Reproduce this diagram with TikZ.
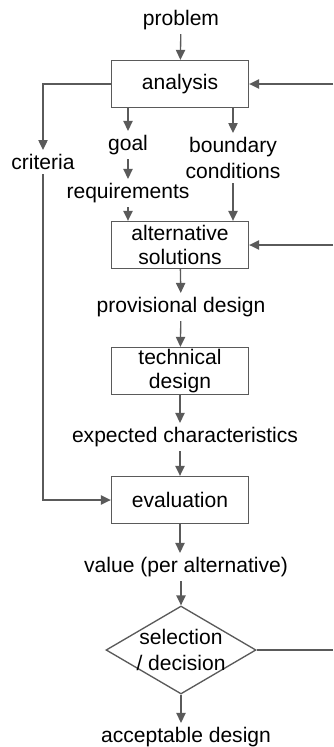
\documentclass[tikz,border=0pt]{standalone}
\usepackage{fontspec}
\setmainfont{Liberation Sans}
\usetikzlibrary{arrows.meta,shapes.geometric}
\definecolor{linegray}{RGB}{90,90,90}
\begin{document}
\begin{tikzpicture}[x=0.75pt,y=-0.75pt,
  box/.style={rectangle,draw=linegray,line width=1pt,minimum width=102.75pt,minimum height=35.25pt,align=center,inner sep=0pt,font=\fontsize{15.8}{18.5}\selectfont},
  lbl/.style={align=center,inner sep=3pt,font=\fontsize{15.8}{19.5}\selectfont},
  arr/.style={-{Triangle[width=7pt,length=7.5pt]},draw=linegray,line width=1pt}]
\useasboundingbox (0,0) rectangle (333,747);
\node (P) [lbl] at (181,20) {problem};
\node (AN) [box] at (180,84) {analysis};
\node (CR) [lbl] at (43,162) {criteria};
\node (G) [lbl] at (128,145) {goal};
\node (BC) [lbl] at (233,158) {boundary\\conditions};
\node (RQ) [lbl] at (128,193) {requirements};
\node (AS) [box] at (180,245) {alternative\\solutions};
\node (PD) [lbl] at (181,307) {provisional design};
\node (TD) [box] at (180,371) {technical\\design};
\node (EC) [lbl] at (185,437) {expected characteristics};
\node (EV) [box] at (180,500) {evaluation};
\node (V) [lbl] at (186,567) {value (per alternative)};
\node (SD) [diamond,draw=linegray,line width=1pt,minimum width=112.5pt,minimum height=66pt,inner sep=0pt,
  label={[lbl]center:selection\\/ decision}] at (181,650) {};
\node (AD) [lbl] at (186,737) {acceptable design};
\coordinate (R1) at (333,84);
\coordinate (R2) at (333,245);
\coordinate (R3) at (333,650);

\draw[arr] (P) -- (AN);
\draw[arr] (R1) -- (AN.east);
\draw[arr] (AN.west) -| (CR.north);
\draw[arr] (AN.south -| G) -- (G.north);
\draw[arr] (AN.south -| BC) -- (BC.north);
\draw[arr] (G) -- (RQ);
\draw[arr] (RQ.south) -- (RQ.south |- AS.north);
\draw[arr] (BC.south) -- (BC.south |- AS.north);
\draw[arr] (R2) -- (AS.east);
\draw[arr] (AS) -- (PD);
\draw[arr] (PD) -- (TD);
\draw[arr] (TD.south) -- (TD.south |- EC.north);
\draw[arr] (EC.south -| EV) -- (EV.north);
\draw[arr] (CR.south) |- (EV.west);
\draw[arr] (EV.south) -- (EV.south |- V.north);
\draw[arr] (V.south -| SD) -- (SD.north);
\draw[linegray,line width=1pt] (SD.east) -- (R3);
\draw[arr] (SD.south) -- (SD.south |- AD.north);
\end{tikzpicture}
\end{document}
